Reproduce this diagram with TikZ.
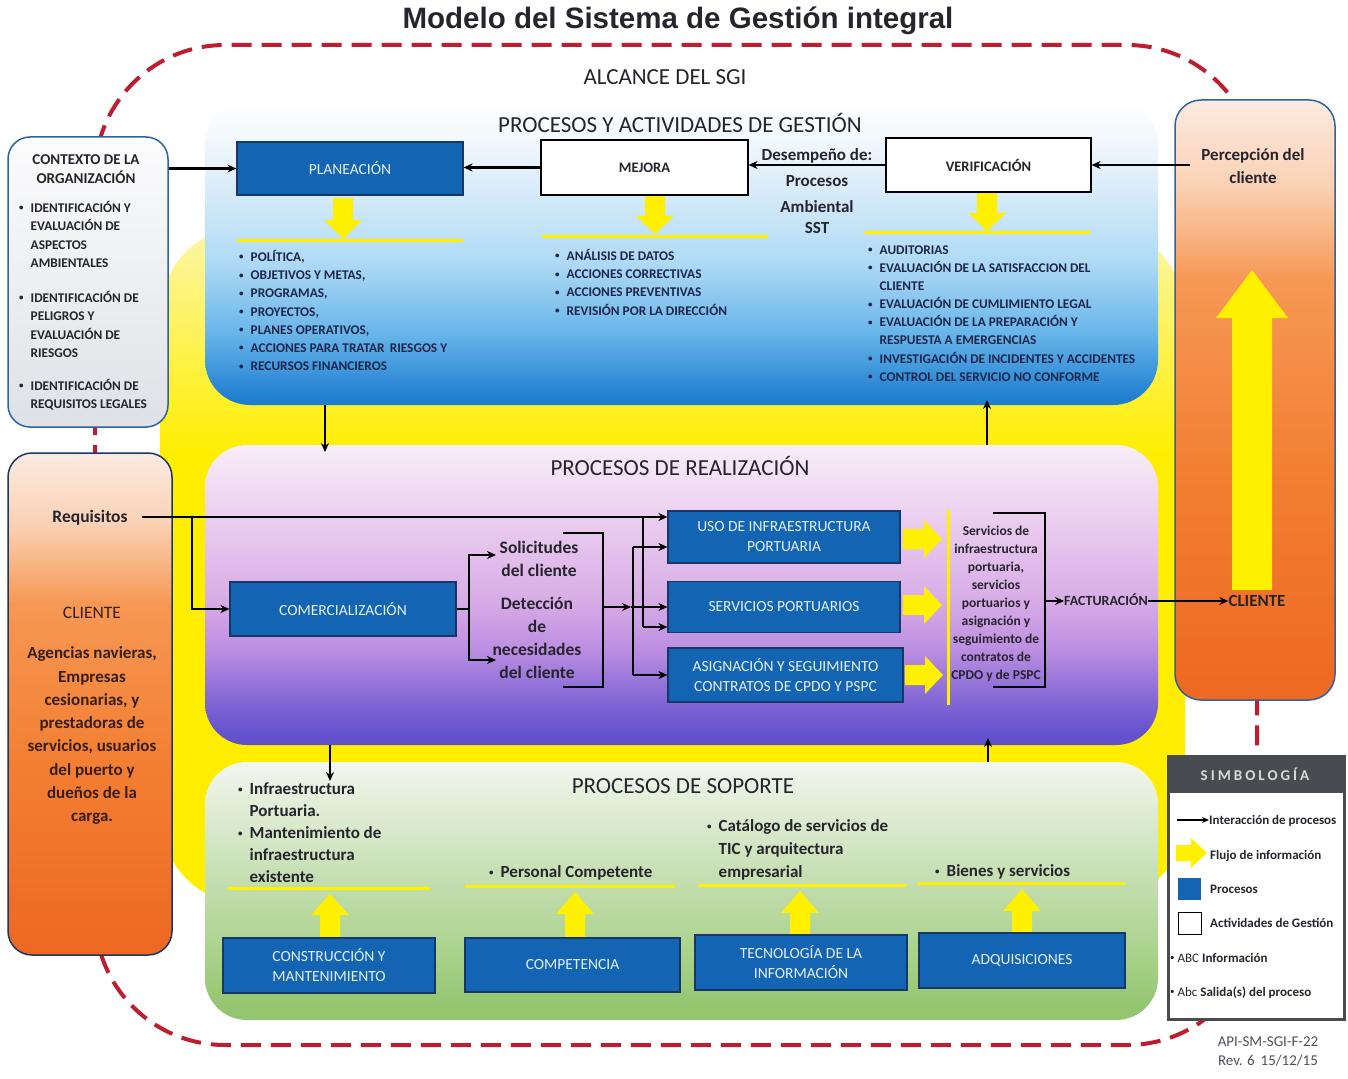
\documentclass[tikz,border=0pt]{standalone}
\usepackage{fontspec}
\setmainfont{Carlito}
\newfontfamily\titlefont{Liberation Sans}
\usetikzlibrary{arrows.meta}
\definecolor{procblue}{RGB}{20,100,180}
\definecolor{procedge}{RGB}{25,55,100}
\definecolor{boxtxt}{RGB}{228,240,252}
\definecolor{dark}{RGB}{38,36,44}
\definecolor{navy}{RGB}{30,38,75}
\definecolor{brownish}{RGB}{55,30,22}
\definecolor{dashred}{RGB}{192,28,48}
\definecolor{yel}{RGB}{255,240,0}
\definecolor{edgeblue}{RGB}{45,100,160}
\definecolor{legdark}{RGB}{72,76,80}
\definecolor{graytxt}{RGB}{80,80,90}
% gestion shading
\definecolor{gA}{RGB}{30,126,208}
\definecolor{gB}{RGB}{105,182,234}
\definecolor{gC}{RGB}{175,218,245}
\definecolor{gD}{RGB}{210,233,248}
\definecolor{gE}{RGB}{238,246,252}
\pgfdeclareverticalshading{gestsh}{100bp}{color(0bp)=(gA); color(26bp)=(gA); color(37bp)=(gB); color(48.5bp)=(gC); color(58.5bp)=(gD); color(67bp)=(gE); color(75bp)=(white); color(100bp)=(white)}
% realizacion shading
\definecolor{rA}{RGB}{100,82,205}
\definecolor{rB}{RGB}{140,110,215}
\definecolor{rC}{RGB}{188,142,225}
\definecolor{rD}{RGB}{215,172,230}
\definecolor{rE}{RGB}{233,202,238}
\definecolor{rF}{RGB}{248,238,248}
\pgfdeclareverticalshading{realsh}{100bp}{color(0bp)=(rA); color(27bp)=(rA); color(34bp)=(rB); color(41bp)=(rC); color(49bp)=(rD); color(61bp)=(rE); color(75bp)=(rF); color(100bp)=(rF)}
% soporte shading
\definecolor{sA}{RGB}{148,198,112}
\definecolor{sB}{RGB}{170,210,140}
\definecolor{sC}{RGB}{196,222,176}
\definecolor{sD}{RGB}{226,238,216}
\definecolor{sE}{RGB}{242,246,240}
\pgfdeclareverticalshading{sopsh}{100bp}{color(0bp)=(sA); color(28bp)=(sA); color(38bp)=(sB); color(52bp)=(sC); color(67bp)=(sD); color(75bp)=(sE); color(100bp)=(sE)}
% cliente shading
\definecolor{cA}{RGB}{238,104,34}
\definecolor{cB}{RGB}{243,128,52}
\definecolor{cC}{RGB}{246,152,84}
\definecolor{cD}{RGB}{250,210,182}
\definecolor{cE}{RGB}{252,234,224}
\pgfdeclareverticalshading{clish}{100bp}{color(0bp)=(cA); color(25bp)=(cA); color(45bp)=(cB); color(60bp)=(cC); color(68bp)=(cD); color(75bp)=(cE); color(100bp)=(cE)}
% contexto shading
\definecolor{xA}{RGB}{222,225,230}
\definecolor{xB}{RGB}{252,252,253}
\pgfdeclareverticalshading{ctxsh}{100bp}{color(0bp)=(xA); color(25bp)=(xA); color(75bp)=(xB); color(100bp)=(xB)}
% yellow shading
\definecolor{yA}{RGB}{255,238,0}
\definecolor{yB}{RGB}{252,246,170}
\pgfdeclareverticalshading{yelsh}{100bp}{color(0bp)=(yA); color(25bp)=(yA); color(58bp)=(yA); color(75bp)=(yB); color(100bp)=(yB)}
\newcommand\yarrV[6]{\fill[yel] ({#1-#5/2},#2) -- ({#1-#5/2},#3) -- ({#1-#6/2},#3) -- (#1,#4) -- ({#1+#6/2},#3) -- ({#1+#5/2},#3) -- ({#1+#5/2},#2) -- cycle;}
\newcommand\yarrH[6]{\fill[yel] (#2,{#1-#5/2}) -- (#3,{#1-#5/2}) -- (#3,{#1-#6/2}) -- (#4,#1) -- (#3,{#1+#6/2}) -- (#3,{#1+#5/2}) -- (#2,{#1+#5/2}) -- cycle;}
\newcommand\bl{\makebox[11.5pt][l]{\raisebox{0.12em}{\small •}}}
\newcommand\hi{\hspace*{11.5pt}}
\newcommand\st{\rule{0pt}{0.9em}}
\begin{document}
\begin{tikzpicture}[x=1pt,y=-1pt,
  conn/.style={-{Stealth[length=9pt,width=8pt]}, line width=2.2pt, draw=black},
  plain/.style={line width=2.2pt, draw=black},
  proc/.style={draw=procedge, line width=1.2pt, fill=procblue, text=boxtxt, font=\fontsize{15.5}{20}\selectfont, align=center, inner sep=0pt},
  gestbox/.style={draw=black, line width=1.2pt, fill=white, text=dark, font=\bfseries\fontsize{14.5}{17}\selectfont, inner sep=0pt},
  sect/.style={text=dark, font=\fontsize{23}{26}\selectfont, inner sep=0pt, anchor=base},
  lst/.style={text=navy, font=\bfseries\fontsize{13.3}{18.2}\selectfont, align=left, inner sep=0pt, anchor=north west},
  ctxl/.style={text=dark, font=\bfseries\fontsize{13.3}{18.3}\selectfont, align=left, inner sep=0pt, anchor=north west},
  big/.style={text=brownish, font=\bfseries\fontsize{17}{23.3}\selectfont, align=center, inner sep=0pt},
  mid/.style={text=dark, font=\bfseries\fontsize{17.5}{23}\selectfont, align=center, inner sep=0pt},
  sopl/.style={text=dark, font=\bfseries\fontsize{17}{22}\selectfont, align=left, inner sep=0pt},
  leg/.style={text=dark, font=\bfseries\fontsize{13}{14}\selectfont, inner sep=0pt, anchor=base west},
  yline/.style={draw=yel, line width=3pt}
]
\useasboundingbox (0,0) rectangle (1348,1078);
\fill[white] (0,0) rectangle (1348,1078);
% yellow background
\shade[shading=yelsh, rounded corners=90pt] (160,225) rectangle (1185,905);
% dashed scope outline
\draw[dashred, line width=4pt, dash pattern=on 20pt off 10pt, rounded corners=130pt] (95,45) rectangle (1257,1045);
% title
\node[inner sep=0pt, anchor=base, text=dark, font=\titlefont\bfseries\fontsize{29.5}{31}\selectfont] (title) at (678,28.5) {Modelo del Sistema de Gestión integral};
\node[sect] (alc) at (665,84.4) {ALCANCE DEL SGI};
% panels
\node[shade, shading=gestsh, rounded corners=45pt, minimum width=953pt, minimum height=305pt, inner sep=0pt] (gest) at (681.5,252.5) {};
\node[shade, shading=realsh, rounded corners=42pt, minimum width=953pt, minimum height=300pt, inner sep=0pt] (real) at (681.5,595) {};
\node[shade, shading=sopsh, rounded corners=42pt, minimum width=953pt, minimum height=258pt, inner sep=0pt] (sop) at (681.5,891) {};
% side boxes
\node[draw=edgeblue, line width=1.5pt, rounded corners=22pt, shade, shading=ctxsh, minimum width=160pt, minimum height=290pt, inner sep=0pt] (ctx) at (88,282) {};
\node[draw=procedge, line width=1.5pt, rounded corners=24pt, shade, shading=clish, minimum width=164pt, minimum height=502pt, inner sep=0pt] (cliL) at (90,704) {};
\node[draw=edgeblue, line width=1.5pt, rounded corners=26pt, shade, shading=clish, minimum width=160pt, minimum height=600pt, inner sep=0pt] (cliR) at (1255,400) {};
% ---- Gestion ----
\node[sect] (tgest) at (680,132.4) {PROCESOS Y ACTIVIDADES DE GESTIÓN};
\node[proc, minimum width=226pt, minimum height=53pt] (pla) at (350,168.5) {PLANEACIÓN};
\node[gestbox, minimum width=207pt, minimum height=55pt] (mej) at (644.5,167.5) {MEJORA};
\node[gestbox, minimum width=205pt, minimum height=54pt] (ver) at (988.5,165) {VERIFICACIÓN};
\node[mid, anchor=base, font=\bfseries\fontsize{17}{21}\selectfont] (des) at (817,160.5) {Desempeño de:};
\node[mid, anchor=base, font=\bfseries\fontsize{17}{21}\selectfont] (desp) at (817,186.5) {Procesos};
\node[mid, anchor=north, font=\bfseries\fontsize{17}{21}\selectfont] (desa) at (817,197.2) {\st Ambiental\\SST};
\coordinate (percS) at (1190,165);
\draw[conn] (percS) -- (ver.east |- percS);
\draw[conn] (ver.west) -- (ver.west -| mej.east);
\draw[conn] (mej.west) -- (mej.west -| pla.east);
\draw[conn] (ctx.east |- pla.west) -- (pla.west);
% yellow down arrows and lines
\yarrV{343}{198}{220}{239}{20}{38}
\draw[yline] (237,240) -- (463,240);
\yarrV{655}{196}{216}{234}{20}{38}
\draw[yline] (542,236) -- (768,236);
\yarrV{987}{193}{213}{231}{20}{38}
\draw[yline] (865,232) -- (1090,232);
% lists
\node[lst] (plal) at (239,249.3) {\st\bl POLÍTICA,\\\bl OBJETIVOS Y METAS,\\\bl PROGRAMAS,\\\bl PROYECTOS,\\\bl PLANES OPERATIVOS,\\\bl ACCIONES PARA TRATAR\, RIESGOS Y\\\bl RECURSOS FINANCIEROS};
\node[lst] (mejl) at (555,248.3) {\st\bl ANÁLISIS DE DATOS\\\bl ACCIONES CORRECTIVAS\\\bl ACCIONES PREVENTIVAS\\\bl REVISIÓN POR LA DIRECCIÓN};
\node[lst, font=\bfseries\fontsize{13.3}{18.1}\selectfont] (verl) at (868,242.3) {\st\bl AUDITORIAS\\\bl EVALUACIÓN DE LA SATISFACCION DEL\\\hi CLIENTE\\\bl EVALUACIÓN DE CUMLIMIENTO LEGAL\\\bl EVALUACIÓN DE LA PREPARACIÓN Y\\\hi RESPUESTA A EMERGENCIAS\\\bl INVESTIGACIÓN DE INCIDENTES Y ACCIDENTES\\\bl CONTROL DEL SERVICIO NO CONFORME};
% contexto text
\node[ctxl, anchor=north, align=center, font=\bfseries\fontsize{15}{20}\selectfont] (ctxt) at (86,150.3) {\st CONTEXTO DE LA\\ORGANIZACIÓN};
\node[ctxl] (ctx1) at (19,200.3) {\st\bl IDENTIFICACIÓN Y\\\hi EVALUACIÓN DE\\\hi ASPECTOS\\\hi AMBIENTALES};
\node[ctxl] (ctx2) at (19,290.3) {\st\bl IDENTIFICACIÓN DE\\\hi PELIGROS Y\\\hi EVALUACIÓN DE\\\hi RIESGOS};
\node[ctxl] (ctx3) at (19,378.3) {\st\bl IDENTIFICACIÓN DE\\\hi REQUISITOS LEGALES};
% right box
\node[big, anchor=north, text=dark] (perc) at (1253,145.2) {\st Percepción del\\cliente};
\yarrV{1252}{590}{318}{270}{40}{72}
\node[big, anchor=base, text=dark] (clR) at (1257,606.5) {CLIENTE};
% left cliente box
\node[big, anchor=base, text=dark, font=\bfseries\fontsize{17.5}{20}\selectfont] (req) at (90,522.6) {Requisitos};
\node[big, anchor=base, font=\fontsize{17.5}{20}\selectfont, text=brownish] (cliT) at (92,618.6) {CLIENTE};
\node[big, anchor=north] (cliD) at (92,643.2) {\st Agencias navieras,\\Empresas\\cesionarias, y\\prestadoras de\\servicios, usuarios\\del puerto y\\dueños de la\\carga.};
% ---- Realizacion ----
\node[sect] (treal) at (680,475.4) {PROCESOS DE REALIZACIÓN};
\node[proc, minimum width=226pt, minimum height=54pt] (com) at (343,609) {COMERCIALIZACIÓN};
\node[proc, minimum width=232pt, minimum height=52pt] (uso) at (784,537) {USO DE INFRAESTRUCTURA\\PORTUARIA};
\node[proc, minimum width=232pt, minimum height=51pt] (serv) at (784,607) {SERVICIOS PORTUARIOS};
\node[proc, minimum width=235pt, minimum height=54pt] (asig) at (785.5,675) {ASIGNACIÓN Y SEGUIMIENTO\\CONTRATOS DE CPDO Y PSPC};
\node[mid, anchor=north] (sol) at (539,537.9) {\st Solicitudes\\del cliente};
\node[mid, anchor=north] (det) at (537,593.9) {\st Detección\\de\\necesidades\\del cliente};
\coordinate (reqS) at (142,517);
\draw[conn] (reqS) -- (reqS -| uso.west);
\draw[conn] (192,517) |- (com.west);
\coordinate (sp) at (469,609);
\draw[plain] (com.east) -- (sp);
\draw[conn] (469,607) |- (496,555);
\draw[conn] (469,607) |- (496,660);
\draw[plain] (563,533) -- (603,533) -- (603,687) -- (563,687);
\draw[conn] (603,607) -- (631,607);
\draw[conn] (631,607) -- (serv.west);
\draw[plain] (643,517) -- (643,627);
\draw[conn] (643,627) -- (643,627 -| serv.west);
\draw[plain] (633,547) -- (633,675);
\draw[conn] (633,547) -- (633,547 -| uso.west);
\draw[conn] (633,675) -- (asig.west);
% yellow right arrows
\yarrH{539}{903}{924}{942}{20}{38}
\yarrH{605}{903}{924}{942}{20}{38}
\yarrH{675}{905}{925}{943}{20}{38}
\draw[yline] (948,510) -- (948,705);
\node[mid, anchor=north, font=\bfseries\fontsize{13.5}{18}\selectfont] (outs) at (996,523.2) {\st Servicios de\\infraestructura\\portuaria,\\servicios\\portuarios y\\asignación y\\seguimiento de\\contratos de\\CPDO y de PSPC};
\draw[plain] (993,513) -- (1045,513) -- (1045,687) -- (993,687);
\node[mid, anchor=base, font=\bfseries\fontsize{14}{16}\selectfont] (fact) at (1106,605.5) {FACTURACIÓN};
\coordinate (br2) at (1045,601);
\draw[conn] (br2) -- (br2 -| fact.west);
\draw[conn] (fact.east |- br2) -- (br2 -| clR.west);
% panel interaction arrows
\draw[conn] (gest.south -| 325,0) -- (325,452);
\draw[conn] (real.north -| 987,0) -- (987,400);
\draw[conn] (real.south -| 330,0) -- (330,781);
\draw[conn] (sop.north -| 988,0) -- (988,738);
% ---- Soporte ----
\node[sect] (tsop) at (683,793.4) {PROCESOS DE SOPORTE};
\node[sopl, anchor=north west] (s1) at (238,779.2) {\st\bl Infraestructura\\\hi Portuaria.\\\bl Mantenimiento de\\\hi infraestructura\\\hi existente};
\node[sopl, anchor=base west] (s2) at (489,877.5) {\bl Personal Competente};
\node[sopl, anchor=north west, font=\bfseries\fontsize{17}{23}\selectfont] (s3) at (707,816.2) {\st\bl Catálogo de servicios de\\\hi TIC y arquitectura\\\hi empresarial};
\node[sopl, anchor=base west] (s4) at (935,876.5) {\bl Bienes y servicios};
\draw[yline] (228,888) -- (430,888);
\draw[yline] (465,886) -- (675,886);
\draw[yline] (698,885) -- (906,885);
\draw[yline] (918,883) -- (1125,883);
\yarrV{330}{937}{915}{894}{20}{38}
\yarrV{575}{937}{914}{892}{20}{38}
\yarrV{800}{934}{913}{891}{20}{38}
\yarrV{1022}{932}{911}{889}{20}{38}
\node[proc, minimum width=212pt, minimum height=55pt] (cons) at (329,965.5) {CONSTRUCCIÓN Y\\MANTENIMIENTO};
\node[proc, minimum width=215pt, minimum height=54pt] (comp) at (572.5,965) {COMPETENCIA};
\node[proc, minimum width=212pt, minimum height=55pt] (tec) at (801,962.5) {TECNOLOGÍA DE LA\\INFORMACIÓN};
\node[proc, minimum width=206pt, minimum height=55pt] (adq) at (1022,960.5) {ADQUISICIONES};
% ---- Simbologia ----
\node[draw=legdark, line width=2.5pt, fill=white, minimum width=176pt, minimum height=263pt, inner sep=0pt, anchor=north west] (legb) at (1167,755) {};
\node[fill=legdark, minimum width=176pt, minimum height=38pt, inner sep=0pt, anchor=north west] (legh) at (1167,755) {};
\node[inner sep=0pt, text=white!85!black, font=\bfseries\fontsize{15}{15}\selectfont\addfontfeature{LetterSpace=20}] (legt) at (1255,774) {SIMBOLOGÍA};
\node[leg] (l1) at (1209,824.2) {Interacción de procesos};
\coordinate (l1s) at (1177,820);
\draw[-{Stealth[length=7pt,width=6pt]}, line width=1.6pt] (l1s) -- (l1s -| l1.west);
\yarrH{853}{1176}{1191}{1207}{16}{30}
\node[leg] (l2) at (1210,859.2) {Flujo de información};
\node[fill=procblue, minimum width=23pt, minimum height=22pt, inner sep=0pt] (l3b) at (1189.5,889) {};
\node[leg] (l3) at (1210,893.2) {Procesos};
\node[draw=black, line width=1pt, fill=white, minimum width=23pt, minimum height=22pt, inner sep=0pt] (l4b) at (1189.5,923) {};
\node[leg] (l4) at (1210,927.2) {Actividades de Gestión};
\node[leg] (l5) at (1170,962.2) {\mdseries\raisebox{0.12em}{\small •} ABC \bfseries Información};
\node[leg] (l6) at (1170,996.2) {\mdseries\raisebox{0.12em}{\small •} Abc \bfseries Salida(s) del proceso};
\node[inner sep=0pt, align=center, anchor=north, text=graytxt, font=\fontsize{15}{19}\selectfont] (code) at (1268,1032.3) {\st API-SM-SGI-F-22\\Rev. 6\, 15/12/15};
\end{tikzpicture}
\end{document}
